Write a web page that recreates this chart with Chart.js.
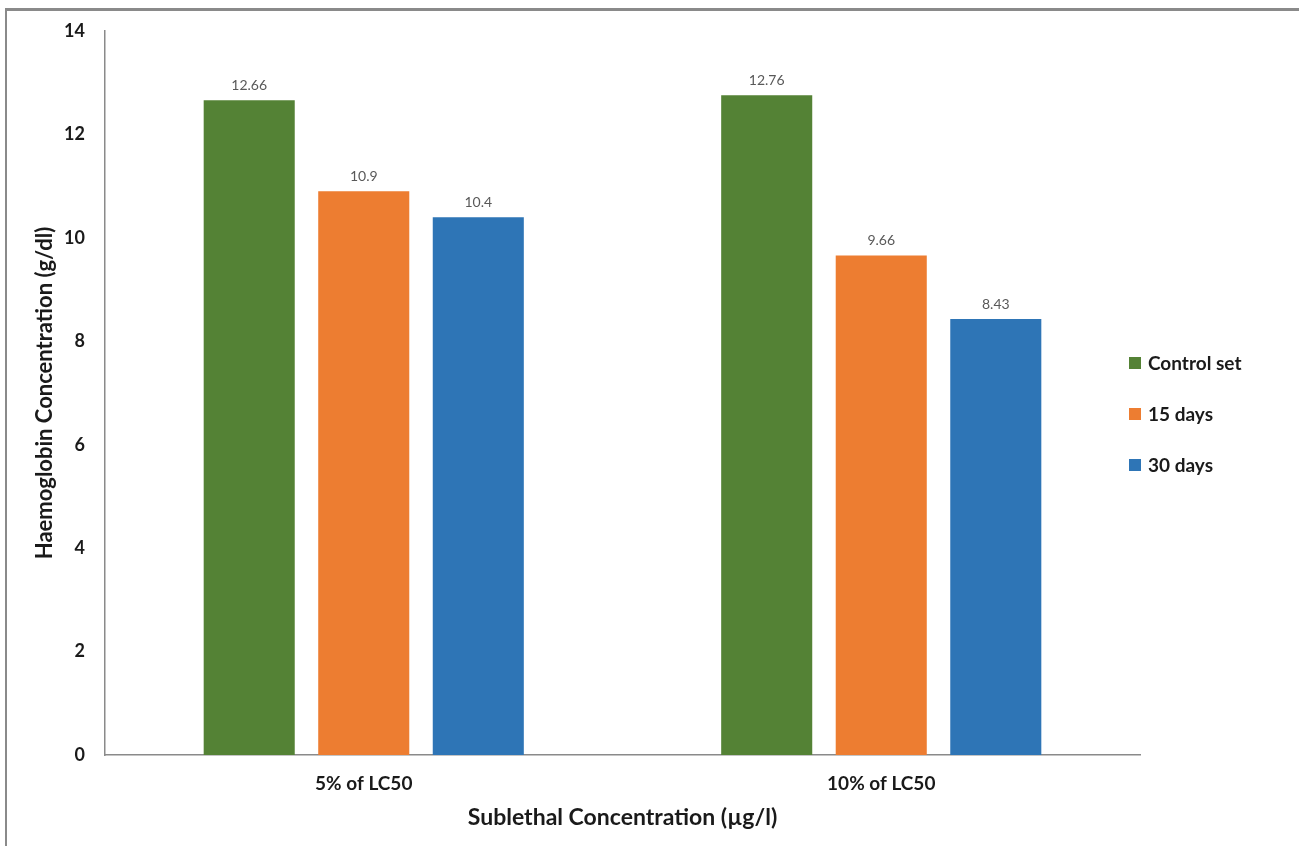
<!DOCTYPE html>
<html>
<head>
<meta charset="utf-8">
<script src="https://cdn.jsdelivr.net/npm/chart.js@4.4.1/dist/chart.umd.min.js"></script>
<style>
  html, body { margin: 0; padding: 0; background: #fff; }
  #wrap { position: relative; width: 1299px; height: 846px; }
  #frame { position: absolute; left: 5px; top: 8px; right: 0; bottom: -4px;
           border-top: 3px solid #8a8a8a; border-left: 2px solid #8a8a8a; pointer-events: none; }
  canvas { position: absolute; left: 0; top: 0; }
</style>
</head>
<body>
<div id="wrap">
  <canvas id="chart" width="1299" height="846"></canvas>
  <div id="frame"></div>
</div>
<script>
const categories = ['5% of LC50', '10% of LC50'];
const controlSet = [12.66, 12.76];
const days15 = [10.9, 9.66];
const days30 = [10.4, 8.43];
const yTicks = [0, 2, 4, 6, 8, 10, 12, 14];

const FONT = 'Lato, "Open Sans", sans-serif';

// Value labels printed above each bar
const barValueLabels = {
  id: 'barValueLabels',
  afterDatasetsDraw(chart) {
    const ctx = chart.ctx;
    ctx.save();
    ctx.font = '14px ' + FONT;
    ctx.fillStyle = '#595959';
    ctx.textAlign = 'center';
    ctx.textBaseline = 'middle';
    chart.data.datasets.forEach((ds, i) => {
      chart.getDatasetMeta(i).data.forEach((bar, j) => {
        ctx.fillText(String(ds.data[j]), bar.x, bar.y - 15);
      });
    });
    ctx.restore();
  }
};

// Series key on the right-hand side
const sideLegend = {
  id: 'sideLegend',
  afterDraw(chart) {
    const ctx = chart.ctx;
    ctx.save();
    ctx.font = 'bold 19px ' + FONT;
    ctx.textBaseline = 'middle';
    ctx.textAlign = 'left';
    const x0 = 1129, yStart = 363, gap = 51;
    chart.data.datasets.forEach((ds, i) => {
      const y = yStart + i * gap;
      ctx.fillStyle = ds.backgroundColor;
      ctx.fillRect(x0, y - 6, 12, 12);
      ctx.fillStyle = '#1a1a1a';
      ctx.fillText(ds.label, x0 + 19, y + 1);
    });
    ctx.restore();
  }
};

new Chart(document.getElementById('chart'), {
  type: 'bar',
  data: {
    labels: categories,
    datasets: [
      { label: 'Control set', data: controlSet, backgroundColor: '#548235' },
      { label: '15 days', data: days15, backgroundColor: '#ED7D31' },
      { label: '30 days', data: days30, backgroundColor: '#2E75B6' }
    ]
  },
  options: {
    responsive: false,
    animation: false,
    devicePixelRatio: 1,
    categoryPercentage: 0.664,
    barPercentage: 0.795,
    layout: { padding: { left: 0, right: 159, top: 31, bottom: 0 } },
    plugins: {
      legend: { display: false },
      tooltip: { enabled: false }
    },
    scales: {
      x: {
        grid: { display: false, drawTicks: false },
        border: { display: true, color: '#8a8a8a', width: 1.5 },
        ticks: { color: '#1a1a1a', font: { family: FONT, size: 19, weight: 'bold' }, padding: 17 },
        title: {
          display: true,
          text: 'Sublethal Concentration (µg/l)',
          color: '#1a1a1a',
          font: { family: FONT, size: 23, weight: 'bold' },
          padding: { top: 0, bottom: 15 }
        },
        afterFit(scale) { scale.height = 91; }
      },
      y: {
        min: 0,
        max: 14,
        afterBuildTicks(scale) { scale.ticks = yTicks.map(v => ({ value: v })); },
        grid: { display: false, drawTicks: false },
        border: { display: true, color: '#8a8a8a', width: 1.5 },
        ticks: { color: '#1a1a1a', font: { family: FONT, size: 18, weight: 'bold' }, padding: 20 },
        title: {
          display: true,
          text: 'Haemoglobin Concentration (g/dl)',
          color: '#1a1a1a',
          font: { family: FONT, size: 22, weight: 'bold' },
          padding: { top: 32, bottom: 0 }
        },
        afterFit(scale) { scale.width = 105; }
      }
    }
  },
  plugins: [barValueLabels, sideLegend]
});
</script>
</body>
</html>
